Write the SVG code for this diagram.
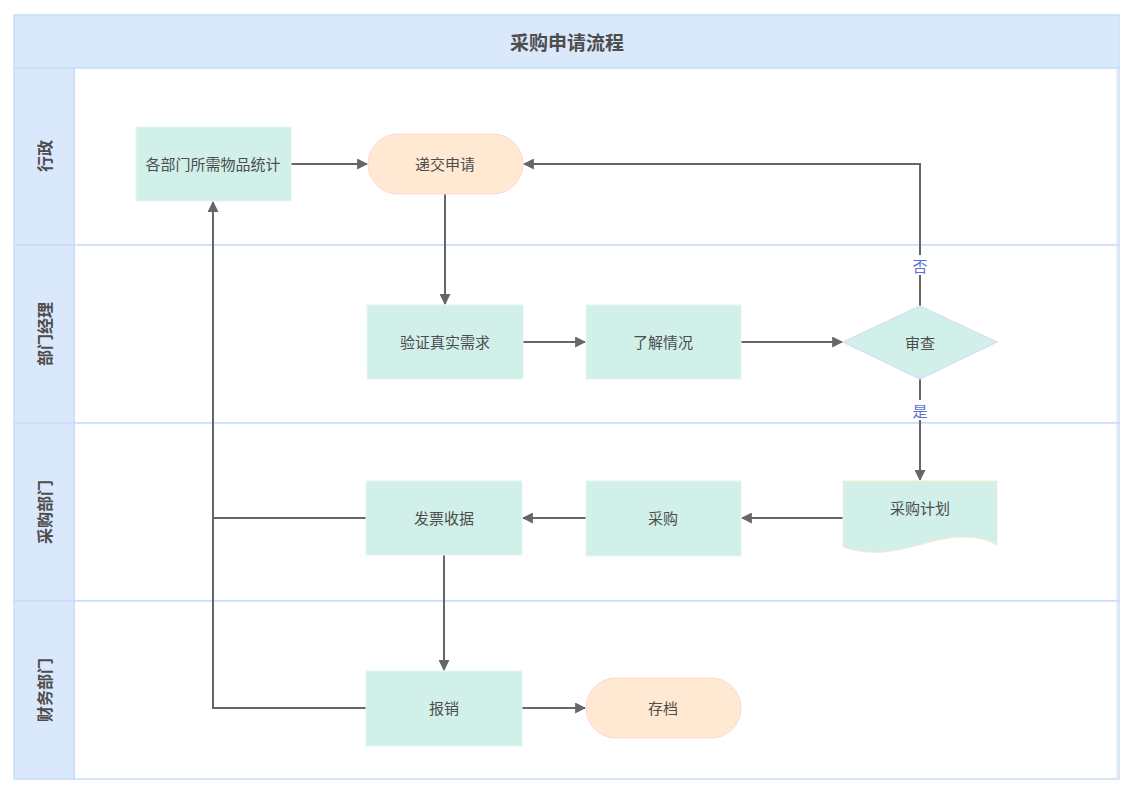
<svg xmlns="http://www.w3.org/2000/svg" width="1133" height="795" viewBox="0 0 1133 795">
<defs>
<style>
.lane{fill:#ffffff;stroke:#c9dcfb;stroke-width:1.5}
.hdr{fill:#dae8fc;stroke:#c9dcfb;stroke-width:1.5}
.box{fill:#d0f0e9;stroke:#e3f5ef;stroke-width:1}
.pill{fill:#ffe9d2;stroke:#ffd5d5;stroke-width:1}
.dia{fill:#d0f0e9;stroke:#d6ddfa;stroke-width:1.2}
.doc{fill:#d0f0e9;stroke:#fde9d0;stroke-width:1}
.t{font-family:"Noto Sans CJK SC","Noto Sans",sans-serif;font-size:15px;fill:#4d4d4d;text-anchor:middle;dominant-baseline:central}
.lt{font-family:"Noto Sans CJK SC","Noto Sans",sans-serif;font-size:16px;font-weight:bold;fill:#4d4d4d;text-anchor:middle;dominant-baseline:central}
.title{font-family:"Noto Sans CJK SC","Noto Sans",sans-serif;font-size:19px;font-weight:bold;fill:#4d4d4d;text-anchor:middle;dominant-baseline:central}
.lbl{font-family:"Noto Sans CJK SC","Noto Sans",sans-serif;font-size:15px;fill:#5b6fd6;text-anchor:middle;dominant-baseline:central}
.c{fill:none;stroke:#666666;stroke-width:2}
</style>
<marker id="arr" viewBox="0 0 10 10" refX="9" refY="5" markerWidth="5.5" markerHeight="5.5" orient="auto" markerUnits="strokeWidth">
<path d="M0,0 L10,5 L0,10 Z" fill="#666666"/>
</marker>
</defs>
<rect width="1133" height="795" fill="#ffffff"/>
<g id="pool">
<rect class="hdr" x="14" y="15" width="1105" height="53"/>
<text class="title" x="567" y="41">采购申请流程</text>
<rect class="lane" x="74" y="68" width="1045" height="177"/>
<rect class="lane" x="74" y="245" width="1045" height="178"/>
<rect class="lane" x="74" y="423" width="1045" height="178"/>
<rect class="lane" x="74" y="601" width="1045" height="178"/>
<line x1="1117" y1="69" x2="1117" y2="778" stroke="#dddddd" stroke-width="1"/>
</g>
<g id="lane-headers">
<rect class="hdr" x="14" y="68" width="60" height="177"/>
<rect class="hdr" x="14" y="245" width="60" height="178"/>
<rect class="hdr" x="14" y="423" width="60" height="178"/>
<rect class="hdr" x="14" y="601" width="60" height="178"/>
<text class="lt" transform="translate(44,156) rotate(-90)">行政</text>
<text class="lt" transform="translate(44,334) rotate(-90)">部门经理</text>
<text class="lt" transform="translate(44,512) rotate(-90)">采购部门</text>
<text class="lt" transform="translate(44,690) rotate(-90)">财务部门</text>
</g>
<g id="connectors">
<line class="c" x1="291" y1="164" x2="367" y2="164" marker-end="url(#arr)"/>
<polyline class="c" points="920,306 920,164 524,164" marker-end="url(#arr)"/>
<line class="c" x1="445" y1="194" x2="445" y2="304" marker-end="url(#arr)"/>
<line class="c" x1="523" y1="342" x2="585" y2="342" marker-end="url(#arr)"/>
<line class="c" x1="741" y1="342" x2="842" y2="342" marker-end="url(#arr)"/>
<line class="c" x1="920" y1="379" x2="920" y2="480" marker-end="url(#arr)"/>
<line class="c" x1="843" y1="518" x2="742" y2="518" marker-end="url(#arr)"/>
<line class="c" x1="586" y1="518" x2="523" y2="518" marker-end="url(#arr)"/>
<line class="c" x1="444" y1="555" x2="444" y2="670" marker-end="url(#arr)"/>
<line class="c" x1="522" y1="708" x2="585" y2="708" marker-end="url(#arr)"/>
<polyline class="c" points="366,518 213,518 213,202" marker-end="url(#arr)"/>
<polyline class="c" points="366,708 213,708 213,518"/>
<rect x="910" y="255" width="20" height="20" fill="#ffffff"/>
<text class="lbl" x="920" y="265">否</text>
<rect x="910" y="400" width="20" height="20" fill="#ffffff"/>
<text class="lbl" x="920" y="410">是</text>
</g>
<g id="n1">
<rect class="box" x="136" y="127" width="155" height="74"/>
<text class="t" x="213" y="163">各部门所需物品统计</text>
</g>
<g id="n2">
<rect class="pill" x="368" y="134" width="155" height="60" rx="30" ry="30"/>
<text class="t" x="445" y="163">递交申请</text>
</g>
<g id="n3">
<rect class="box" x="367" y="305" width="156" height="74"/>
<text class="t" x="445" y="341">验证真实需求</text>
</g>
<g id="n4">
<rect class="box" x="586" y="305" width="155" height="74"/>
<text class="t" x="663" y="341">了解情况</text>
</g>
<g id="n5">
<polygon class="dia" points="920,306 997,342 920,379 843,342"/>
<text class="t" x="920" y="342">审查</text>
</g>
<g id="n6">
<path class="doc" d="M843,481 H997 V545 C980,536 960,534 930,542 C900,550 875,558 843,547 Z"/>
<text class="t" x="920" y="507">采购计划</text>
</g>
<g id="n7">
<rect class="box" x="586" y="481" width="155" height="75"/>
<text class="t" x="663" y="517">采购</text>
</g>
<g id="n8">
<rect class="box" x="366" y="481" width="156" height="74"/>
<text class="t" x="444" y="517">发票收据</text>
</g>
<g id="n9">
<rect class="box" x="366" y="671" width="156" height="75"/>
<text class="t" x="444" y="707">报销</text>
</g>
<g id="n10">
<rect class="pill" x="586" y="678" width="155" height="60" rx="30" ry="30"/>
<text class="t" x="663" y="707">存档</text>
</g>
</svg>
